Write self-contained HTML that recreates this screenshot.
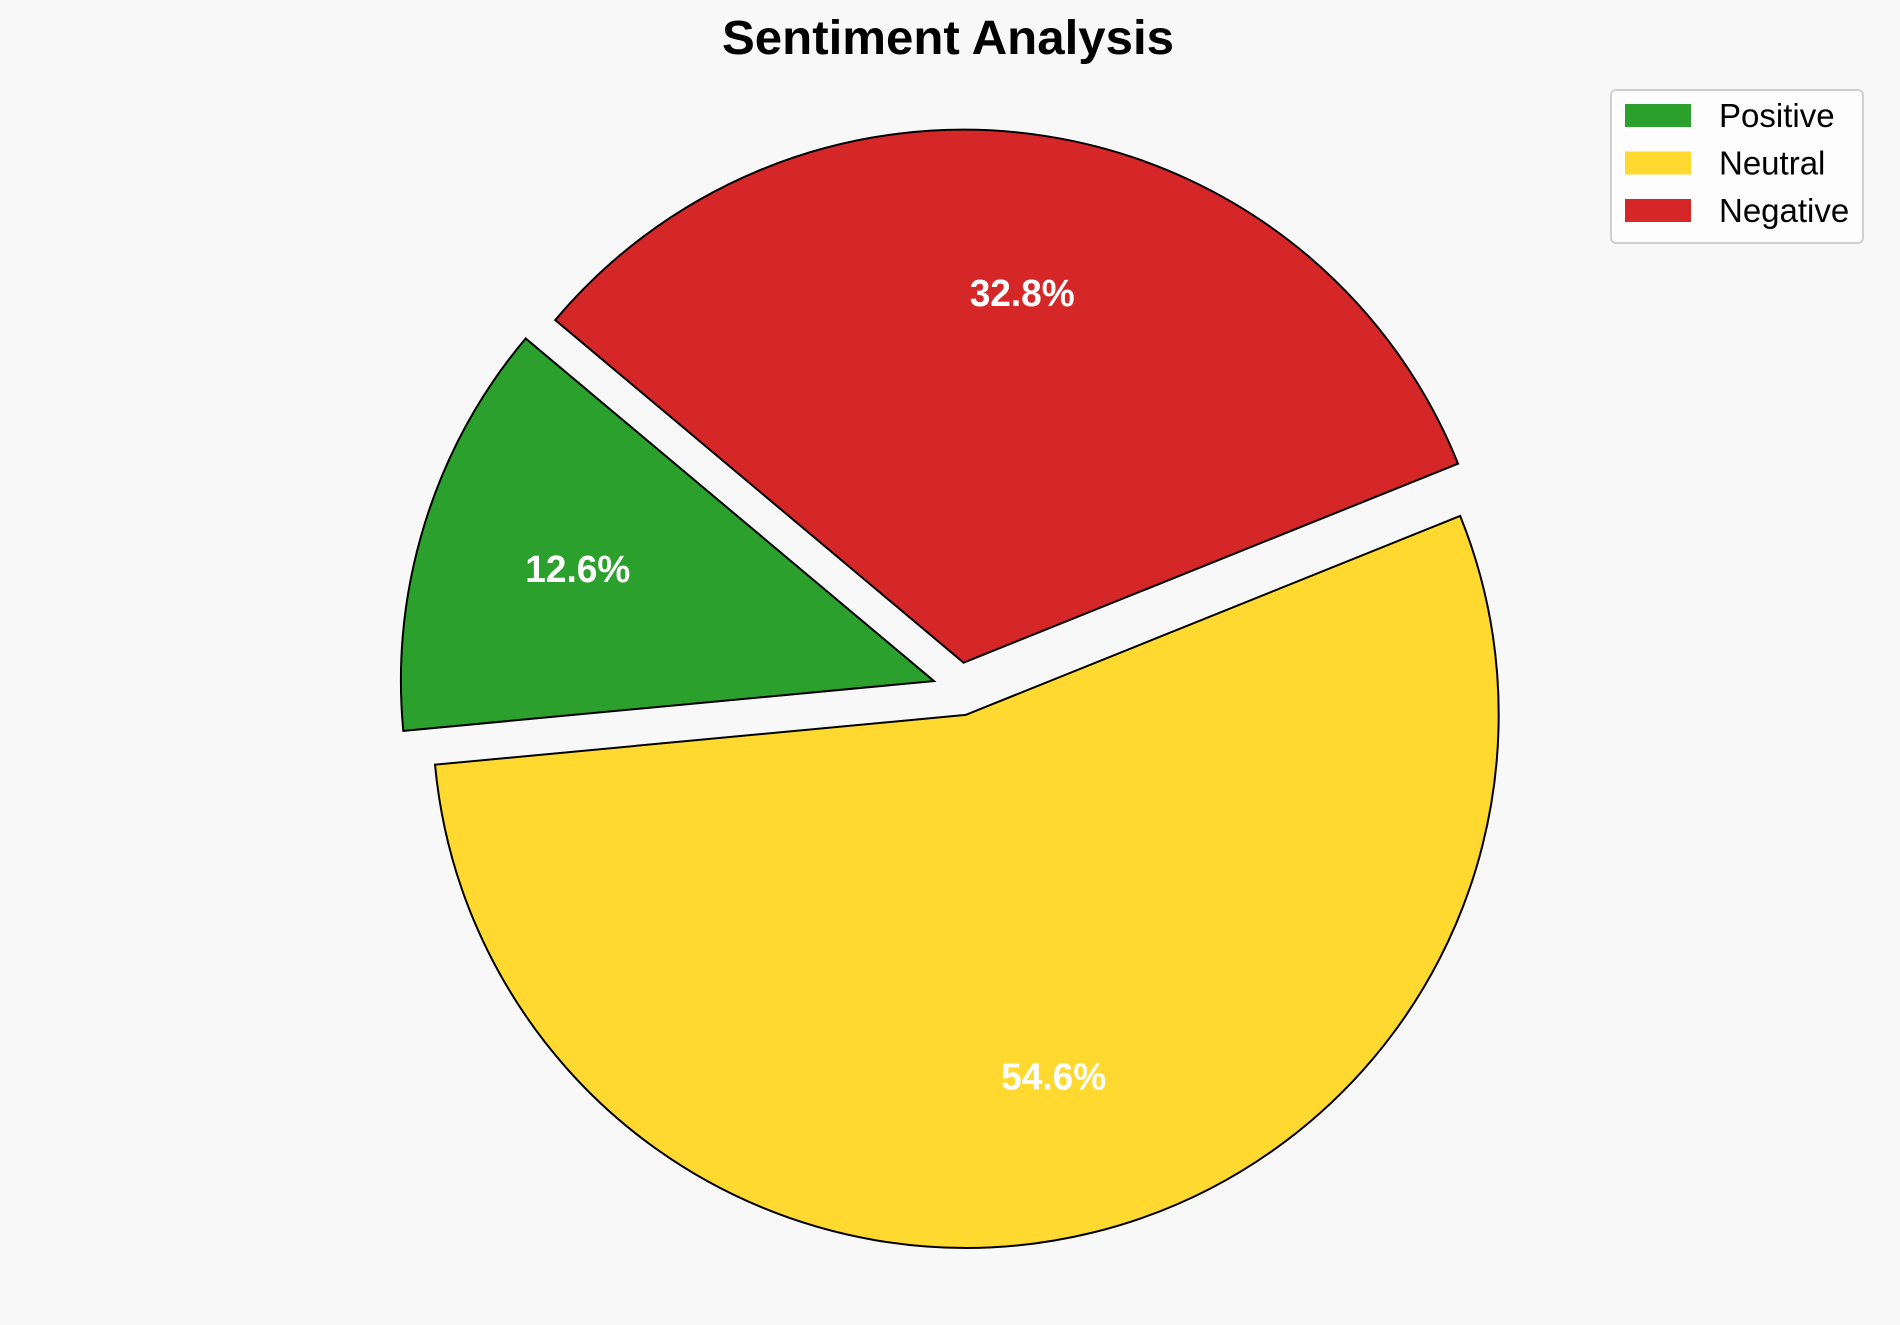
<!DOCTYPE html>
<html><head><meta charset="utf-8"><style>
html,body{margin:0;padding:0;background:#f8f8f8;}
svg{display:block;font-family:"Liberation Sans",Arial,sans-serif;}
</style></head><body>
<svg id="chart" width="1900" height="1325" viewBox="0 0 1900 1325">
<rect width="1900" height="1325" fill="#f8f8f8"/>
<text x="948" y="54" text-anchor="middle" font-size="48" font-weight="bold" textLength="452" lengthAdjust="spacingAndGlyphs" fill="#000">Sentiment Analysis</text>
<g id="pie"></g>
<g>
<rect x="1611" y="90" width="252" height="153" rx="5" fill="#fdfdfd" stroke="#d0d0d0" stroke-width="2"/>
<g id="legend-items"></g>
</g>
</svg>
<script>
const categories = ["Positive", "Neutral", "Negative"];
const values = [12.6, 54.6, 32.8];
const pctLabels = ["12.6%", "54.6%", "32.8%"];
const colors = ["#2ca02c", "#ffd92f", "#d62728"];
const explode = [0.05, 0.05, 0.05];

const NS = "http://www.w3.org/2000/svg";
const cx = 959.4, cy = 689.0, R = 533, startAngle = 140, pctDist = 0.7;
const total = values.reduce((a, b) => a + b, 0);
const pie = document.getElementById('pie');
let a0 = startAngle;
function pt(x, y, r, deg) { const t = deg * Math.PI / 180; return [x + r * Math.cos(t), y - r * Math.sin(t)]; }
values.forEach((v, i) => {
  const sweep = v / total * 360;
  const a1 = a0 + sweep;
  const mid = (a0 + a1) / 2;
  const [ox, oy] = pt(cx, cy, explode[i] * R, mid);
  const [x0, y0] = pt(ox, oy, R, a0);
  const [x1, y1] = pt(ox, oy, R, a1);
  const large = sweep > 180 ? 1 : 0;
  const p = document.createElementNS(NS, 'path');
  p.setAttribute('d', `M${ox},${oy} L${x0},${y0} A${R},${R} 0 ${large} 0 ${x1},${y1} Z`);
  p.setAttribute('fill', colors[i]);
  p.setAttribute('stroke', '#000');
  p.setAttribute('stroke-width', '2');
  p.setAttribute('stroke-linejoin', 'miter');
  
  
  pie.appendChild(p);
  const [lx, ly] = pt(ox, oy, R * pctDist, mid);
  const t = document.createElementNS(NS, 'text');
  t.setAttribute('x', lx);
  t.setAttribute('y', ly + 12);
  t.setAttribute('text-anchor', 'middle');
  t.setAttribute('font-size', '38');
  t.setAttribute('font-weight', 'bold');
  t.setAttribute('fill', '#fff');
  t.setAttribute('textLength', '105');
  t.setAttribute('lengthAdjust', 'spacingAndGlyphs');
  t.textContent = pctLabels[i];
  
  
  pie.appendChild(t);
  a0 = a1;
});
const leg = document.getElementById('legend-items');
categories.forEach((c, i) => {
  const y = 104 + i * 47.5;
  const r = document.createElementNS(NS, 'rect');
  r.setAttribute('x', 1625); r.setAttribute('y', y);
  r.setAttribute('width', 66); r.setAttribute('height', 23);
  r.setAttribute('fill', colors[i]);
  
  
  leg.appendChild(r);
  const t = document.createElementNS(NS, 'text');
  t.setAttribute('x', 1719); t.setAttribute('y', y + 23);
  t.setAttribute('font-size', '33');
  t.setAttribute('fill', '#000');
  t.textContent = c;
  
  
  leg.appendChild(t);
});
</script>
</body></html>
